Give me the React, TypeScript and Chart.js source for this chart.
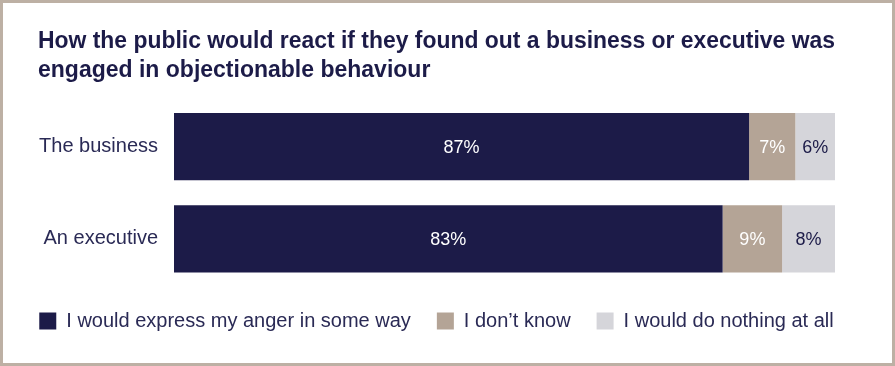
import React, { useEffect, useRef } from "react";
import { Chart, registerables } from "chart.js";

Chart.register(...registerables);

const titleLines = [
  "How the public would react if they found out a business or executive was",
  "engaged in objectionable behaviour",
];
const categories = ["The business", "An executive"];
const seriesNames = [
  "I would express my anger in some way",
  "I don\u2019t know",
  "I would do nothing at all",
];
const angerValues = [87, 83];
const dontKnowValues = [7, 9];
const nothingValues = [6, 8];

const NAVY = "#1c1b48";
const TAN = "#b4a496";
const GREY = "#d5d5da";
const TEXT = "#2a2a55";
const FONT = "'Liberation Sans', Arial, Helvetica, sans-serif";

const valueLabelPlugin = {
  id: "valueLabels",
  afterDatasetsDraw(chart: any) {
    const ctx = chart.ctx;
    ctx.save();
    ctx.font = `18px ${FONT}`;
    ctx.textAlign = "center";
    ctx.textBaseline = "middle";
    chart.data.datasets.forEach((ds: any, di: number) => {
      const meta = chart.getDatasetMeta(di);
      meta.data.forEach((el: any, i: number) => {
        const v = ds.data[i];
        const cx = (el.x + el.base) / 2;
        ctx.fillStyle = di === 2 ? NAVY : "#ffffff";
        ctx.fillText(`${v}%`, cx, el.y + 1);
      });
    });
    ctx.restore();
  },
};

// keep the legend on a single row even though it is a little wider than the padded box
const singleRowLegendPlugin = {
  id: "singleRowLegend",
  beforeLayout(chart: any) {
    const lg = chart.legend;
    if (lg && !lg.__singleRow) {
      const origFit = lg.fit.bind(lg);
      lg.fit = function () {
        const mw = this.maxWidth;
        this.maxWidth = mw + 200;
        origFit();
        this.maxWidth = mw;
        this.width = Math.min(this.width, mw);
      };
      const origDraw = lg.draw.bind(lg);
      lg.draw = function (...args: any[]) {
        const l = this.left;
        const r = this.right;
        // widen symmetrically so the centred row stays where it is
        this.left = l - 100;
        this.right = r + 100;
        origDraw(...args);
        this.left = l;
        this.right = r;
      };
      lg.__singleRow = true;
    }
  },
};

export default function App() {
  const ref = useRef<HTMLCanvasElement | null>(null);
  useEffect(() => {
    if (!ref.current) return;
    const chart = new Chart(ref.current, {
      type: "bar",
      data: {
        labels: categories,
        datasets: [
          { label: seriesNames[0], data: angerValues, backgroundColor: NAVY },
          { label: seriesNames[1], data: dontKnowValues, backgroundColor: TAN },
          { label: seriesNames[2], data: nothingValues, backgroundColor: GREY },
        ],
      },
      options: {
        indexAxis: "y",
        animation: false,
        responsive: true,
        maintainAspectRatio: false,
        layout: { padding: { left: 35, right: 57, top: 0, bottom: 22 } },
        datasets: {
          bar: { categoryPercentage: 1, barPercentage: 0.728, borderWidth: 0 },
        },
        scales: {
          x: {
            stacked: true,
            min: 0,
            max: 100,
            display: false,
          },
          y: {
            stacked: true,
            grid: { display: false, drawTicks: false },
            border: { display: false },
            ticks: {
              padding: 16,
              color: TEXT,
              font: { family: FONT, size: 20 },
            },
            afterFit(scale: any) {
              scale.width = 136;
            },
          },
        },
        plugins: {
          title: {
            display: true,
            text: titleLines,
            align: "start",
            color: NAVY,
            font: { family: FONT, size: 23, weight: "bold", lineHeight: "29px" },
            padding: { top: 24.5, bottom: 15 },
          },
          legend: {
            position: "bottom",
            align: "center",
            labels: {
              boxWidth: 17,
              boxHeight: 17,
              padding: 26,
              color: TEXT,
              font: { family: FONT, size: 20 },
            },
          },
          tooltip: { enabled: false },
        },
      },
      plugins: [singleRowLegendPlugin, valueLabelPlugin],
    });
    return () => chart.destroy();
  }, []);

  return (
    <div
      style={{
        position: "absolute",
        left: 0,
        top: 0,
        width: 895,
        height: 366,
        boxSizing: "border-box",
        border: "3px solid #bdb0a4",
        background: "#ffffff",
      }}
    >
      <div style={{ position: "relative", width: 889, height: 360 }}>
        <canvas ref={ref} />
      </div>
    </div>
  );
}
